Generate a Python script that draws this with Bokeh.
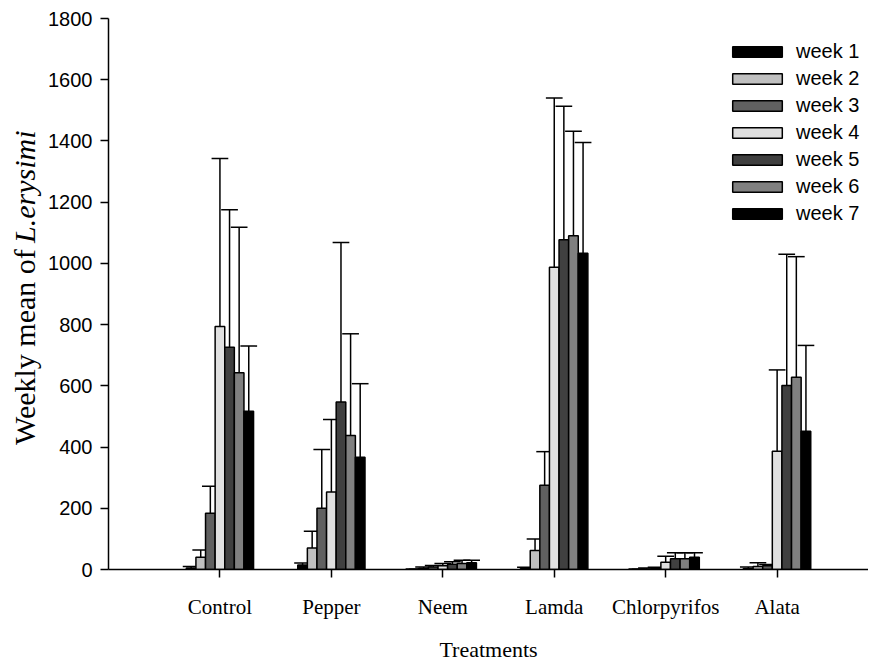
import math
from bokeh.plotting import figure
from bokeh.layouts import row
from bokeh.models import Range1d, FixedTicker, Label, Legend, LegendItem, ColumnDataSource
from bokeh.embed import file_html
from bokeh.resources import INLINE

treatments = ["Control", "Pepper", "Neem", "Lamda", "Chlorpyrifos", "Alata"]
weeks = ["week 1", "week 2", "week 3", "week 4", "week 5", "week 6", "week 7"]

# weekly means (week 1..7) and upper standard deviations per treatment
control_mean = [5, 40, 184, 794, 726, 643, 517]
control_sd = [5, 24, 88, 549, 449, 475, 213]
pepper_mean = [15, 70, 200, 253, 547, 438, 367]
pepper_sd = [6, 55, 192, 237, 521, 332, 240]
neem_mean = [1, 4, 8, 12, 17, 20, 22]
neem_sd = [1, 4, 5, 8, 8, 10, 8]
lamda_mean = [3, 62, 275, 987, 1077, 1090, 1033]
lamda_sd = [4, 38, 110, 553, 436, 342, 362]
chlorpyrifos_mean = [1, 2, 3, 24, 35, 35, 40]
chlorpyrifos_sd = [1, 3, 4, 19, 20, 20, 15]
alata_mean = [3, 10, 12, 386, 601, 628, 452]
alata_sd = [5, 12, 4, 266, 429, 394, 280]

y_ticks = [0, 200, 400, 600, 800, 1000, 1200, 1400, 1600, 1800]

week_colors = ["#000000", "#c0c0c0", "#606060", "#e0e0e0", "#404040", "#808080", "#000000"]

means = [control_mean, pepper_mean, neem_mean, lamda_mean, chlorpyrifos_mean, alata_mean]
sds = [control_sd, pepper_sd, neem_sd, lamda_sd, chlorpyrifos_sd, alata_sd]

BAR_W = 0.0862
CAP_W = 0.15

H = 664
LAB_W = 44

p = figure(width=868 - LAB_W, height=H, output_backend="svg", toolbar_location=None,
           x_range=Range1d(0, 6.82), y_range=Range1d(0, 1800),
           min_border_left=108 - LAB_W, min_border_right=0, min_border_top=18, min_border_bottom=95)
p.outline_line_color = None
p.xgrid.visible = False
p.ygrid.visible = False
p.background_fill_color = "white"

items = []
for k, wk in enumerate(weeks):
    xs = [i + 1 + (k - 3) * BAR_W for i in range(len(treatments))]
    tops = [m[k] for m in means]
    caps = [m[k] + s[k] for m, s in zip(means, sds)]
    src = ColumnDataSource(dict(x=xs, top=tops, cap=caps,
                                cl=[x - CAP_W / 2 for x in xs],
                                cr=[x + CAP_W / 2 for x in xs]))
    r = p.vbar(x="x", top="top", bottom=0, width=BAR_W, source=src,
               fill_color=week_colors[k], line_color="#000000", line_width=1.5)
    p.segment(x0="x", y0="top", x1="x", y1="cap", source=src, line_color="#000000", line_width=1.5)
    p.segment(x0="cl", y0="cap", x1="cr", y1="cap", source=src, line_color="#000000", line_width=1.5)
    items.append(LegendItem(label=wk, renderers=[r]))

legend = Legend(items=items, location=(618, 344), margin=0, padding=0,
                glyph_width=62, glyph_height=13, label_standoff=8,
                label_height=24, spacing=3,
                label_text_font="Liberation Sans", label_text_font_size="20px",
                label_text_color="#000000",
                border_line_color=None, background_fill_alpha=0)
p.add_layout(legend, "center")

# axes
p.xaxis.ticker = FixedTicker(ticks=[i + 1 for i in range(len(treatments))])
p.xaxis.major_label_overrides = {i + 1: t for i, t in enumerate(treatments)}
p.xaxis.major_label_text_font = "Liberation Serif"
p.xaxis.major_label_text_font_size = "21px"
p.xaxis.major_label_text_color = "#000000"
p.xaxis.major_tick_out = 8
p.xaxis.major_tick_in = 0
p.xaxis.minor_tick_line_color = None
p.xaxis.axis_line_width = 1.5
p.xaxis.major_tick_line_width = 1.5
p.xaxis.axis_label = "Treatments"
p.xaxis.axis_label_text_font = "Liberation Serif"
p.xaxis.axis_label_text_font_style = "normal"
p.xaxis.axis_label_text_font_size = "22px"
p.xaxis.axis_label_text_color = "#000000"
p.xaxis.axis_label_standoff = 15
p.xaxis.major_label_standoff = 17

p.yaxis.ticker = FixedTicker(ticks=y_ticks)
p.yaxis.major_label_text_font = "Liberation Sans"
p.yaxis.major_label_text_font_size = "20px"
p.yaxis.major_label_text_color = "#000000"
p.yaxis.major_tick_out = 8
p.yaxis.major_tick_in = 0
p.yaxis.minor_tick_line_color = None
p.yaxis.axis_line_width = 1.5
p.yaxis.major_tick_line_width = 1.5
p.yaxis.major_label_standoff = 8

# y-axis title (mixed roman / italic) in a narrow strip to the left
q = figure(width=LAB_W, height=H, output_backend="svg", toolbar_location=None,
           x_range=Range1d(0, LAB_W), y_range=Range1d(0, H),
           x_axis_location=None, y_axis_location=None, min_border=0)
q.outline_line_color = None
q.xgrid.visible = False
q.ygrid.visible = False

FS = 30
split_part1_end = H - 278   # where "of" ends
lbl1 = Label(x=24, y=split_part1_end, angle=math.pi / 2,
             text="Weekly mean of", text_align="right", text_baseline="middle",
             text_font="Liberation Serif", text_font_size=f"{FS}px", text_color="#000000")
lbl2 = Label(x=24, y=split_part1_end + 0.25 * FS, angle=math.pi / 2,
             text="L.erysimi", text_align="left", text_baseline="middle",
             text_font="Liberation Serif", text_font_style="italic",
             text_font_size=f"{FS}px", text_color="#000000")
q.add_layout(lbl1)
q.add_layout(lbl2)

layout = row(q, p)
open("out.html", "w").write(file_html(layout, INLINE))
